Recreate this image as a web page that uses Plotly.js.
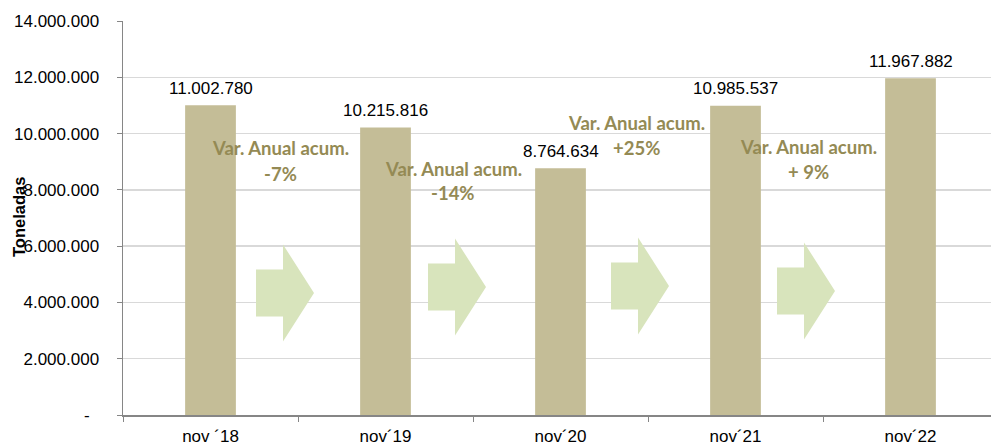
<!DOCTYPE html>
<html>
<head>
<meta charset="utf-8">
<script src="https://cdn.plot.ly/plotly-3.0.1.min.js"></script>
<style>html,body{margin:0;padding:0;background:#fff;}#chart{width:991px;height:445px;}</style>
</head>
<body>
<div id="chart"></div>
<script>
// ---- data ----
var categories = ["nov \u00b418", "nov\u00b419", "nov\u00b420", "nov\u00b421", "nov\u00b422"];
var toneladas = [11002780, 10215816, 8764634, 10985537, 11967882];
var yTickValues = [0, 2000000, 4000000, 6000000, 8000000, 10000000, 12000000, 14000000];
var varLine1 = ["Var. Anual acum.", "Var. Anual acum.", "Var. Anual acum.", "Var. Anual acum."];
var varLine2 = ["-7%", "-14%", "+25%", "+ 9%"];
var yAxisTitle = "Toneladas";

// ---- helpers ----
function fmt(n) {
  if (n === 0) return "-\u00a0\u00a0";
  return String(Math.round(n)).replace(/\B(?=(\d{3})+(?!\d))/g, ".");
}
var L = 123, T = 21, W = 868, H = 394;
function px2paperX(px) { return (px - L) / W; }
function px2paperY(py) { return (T + H - py) / H; }

// layout positions (pixels) for decorations
var varPos = [[280, 148, 174], [453, 169, 193], [636, 123, 148], [808, 147, 172]];
var arrowPos = [[256, 293], [428, 287], [611, 286], [777, 291]];

var annotations = [];
categories.forEach(function (c, i) {
  annotations.push({
    x: c, y: toneladas[i], xref: "x", yref: "y",
    text: fmt(toneladas[i]), showarrow: false,
    yanchor: "middle", xanchor: "center", yshift: 17,
    font: {family: "Liberation Sans, Arial, sans-serif", size: 17, color: "#000"}
  });
});
varLine1.forEach(function (t, i) {
  var p = varPos[i];
  annotations.push({
    xref: "paper", yref: "paper", x: px2paperX(p[0]), y: px2paperY(p[1]),
    text: "<b>" + t + "</b>", showarrow: false, xanchor: "center", yanchor: "middle",
    font: {family: "Lato, sans-serif", size: 18.5, color: "#948a54"}
  });
  annotations.push({
    xref: "paper", yref: "paper", x: px2paperX(p[0]), y: px2paperY(p[2]),
    text: "<b>" + varLine2[i] + "</b>", showarrow: false, xanchor: "center", yanchor: "middle",
    font: {family: "Lato, sans-serif", size: 18.5, color: "#948a54"}
  });
});
annotations.push({
  xref: "paper", yref: "paper", x: px2paperX(19), y: px2paperY(217),
  text: "<b>" + yAxisTitle + "</b>", showarrow: false, textangle: -90,
  xanchor: "center", yanchor: "middle",
  font: {family: "Liberation Sans, Arial, sans-serif", size: 16.5, color: "#000"}
});

var shapes = arrowPos.map(function (a) {
  var x0 = a[0], cy = a[1];
  var pts = [
    [x0, cy - 23.5], [x0 + 27, cy - 23.5], [x0 + 27, cy - 48.5], [x0 + 58, cy],
    [x0 + 27, cy + 48.5], [x0 + 27, cy + 23.5], [x0, cy + 23.5]
  ];
  var path = pts.map(function (p, k) {
    return (k === 0 ? "M" : "L") + px2paperX(p[0]).toFixed(5) + "," + px2paperY(p[1]).toFixed(5);
  }).join(" ") + " Z";
  return {type: "path", xref: "paper", yref: "paper", path: path,
          fillcolor: "#d8e4bc", line: {width: 0}, layer: "above"};
});

var trace = {
  type: "bar", x: categories, y: toneladas, width: 0.29,
  marker: {color: "#c4bd97", line: {width: 0}}, hoverinfo: "skip"
};

var layout = {
  width: 991, height: 445,
  margin: {l: L, r: 0, t: T, b: 445 - T - H, pad: 0},
  paper_bgcolor: "#fff", plot_bgcolor: "#fff",
  showlegend: false,
  font: {family: "Liberation Sans, Arial, sans-serif", size: 17, color: "#000"},
  xaxis: {
    type: "category", range: [-0.5, -0.5 + W / 175],
    tickson: "boundaries", ticks: "outside", ticklen: 5, tickcolor: "#868686",
    showline: true, linecolor: "#868686", linewidth: 1.5,
    showgrid: false, zeroline: false, ticklabelstandoff: 5,
    tickfont: {size: 17, color: "#000"}
  },
  yaxis: {
    range: [0, 14000000], tickvals: yTickValues, ticktext: yTickValues.map(fmt),
    ticks: "outside", ticklen: 5, tickcolor: "#868686",
    showline: true, linecolor: "#868686", linewidth: 1.5,
    showgrid: true, gridcolor: "#d9d9d9", gridwidth: 1.5, zeroline: false,
    ticklabelstandoff: 14, tickfont: {size: 17, color: "#000"}
  },
  annotations: annotations,
  shapes: shapes
};

Plotly.newPlot("chart", [trace], layout, {staticPlot: true, displayModeBar: false});
</script>
</body>
</html>
